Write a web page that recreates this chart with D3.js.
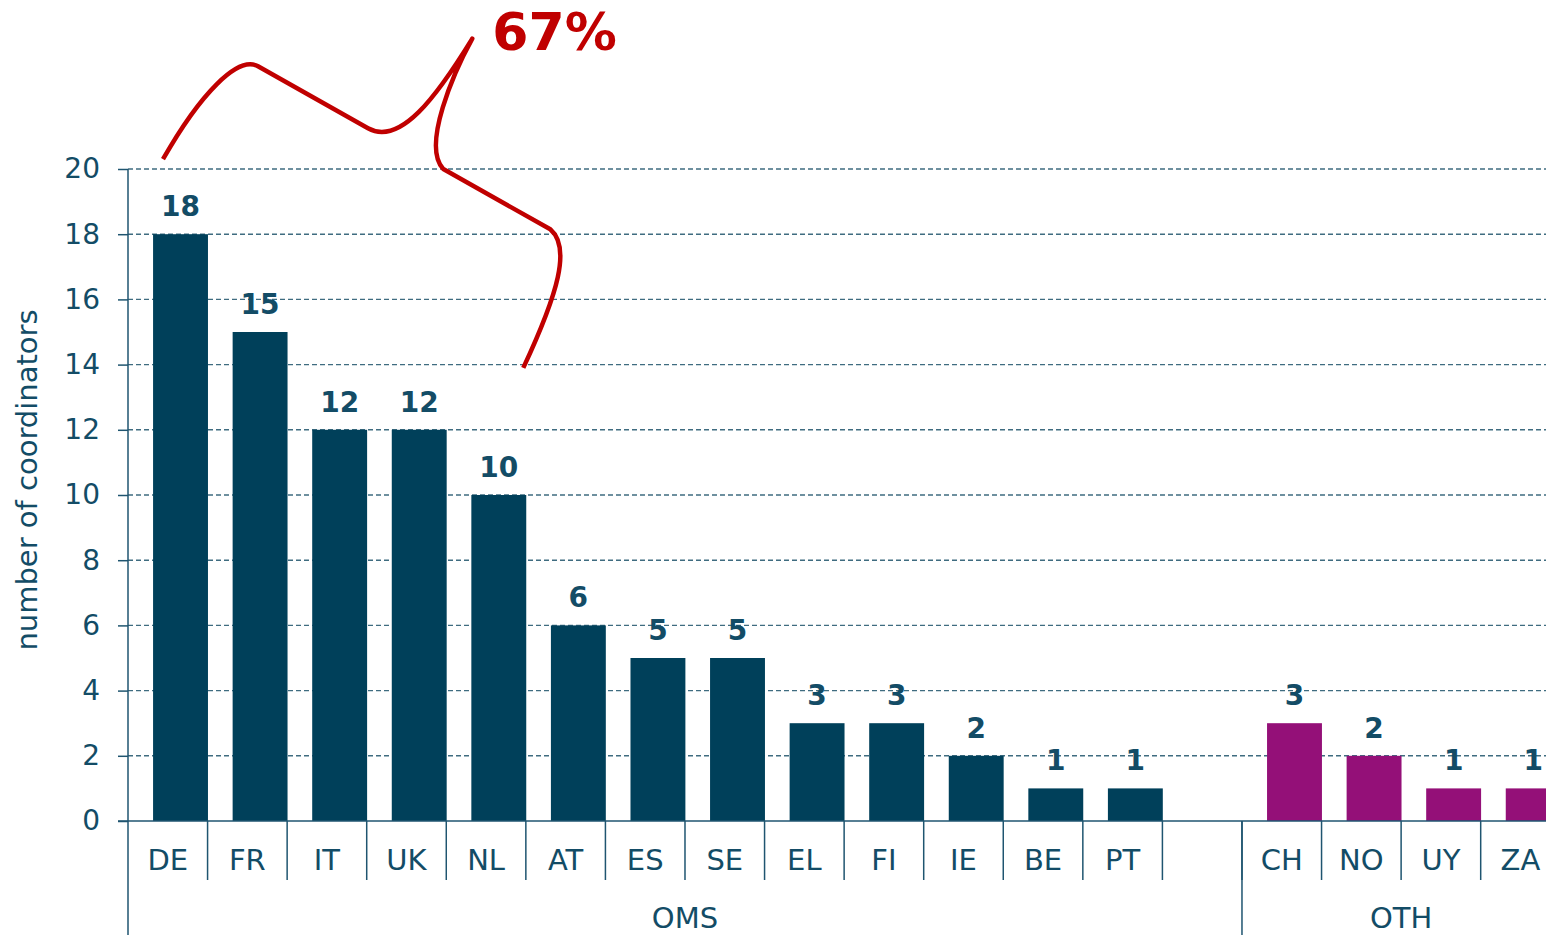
<!DOCTYPE html>
<html>
<head>
<meta charset="utf-8">
<script src="https://cdn.jsdelivr.net/npm/d3@7"></script>
<style>
    html, body { margin: 0; padding: 0; background: #fff; overflow: hidden; }
    #chart { width: 1546px; height: 935px; }
    svg { display: block; font-family: "DejaVu Sans", Verdana, sans-serif; }
</style>
</head>
<body>
<div id="chart"></div>
<script>

// ==========================
// Data
// ==========================

const omsCountries = ["DE", "FR", "IT", "UK", "NL", "AT", "ES", "SE", "EL", "FI", "IE", "BE", "PT"];
const omsValues = [18, 15, 12, 12, 10, 6, 5, 5, 3, 3, 2, 1, 1];

const othCountries = ["CH", "NO", "UY", "ZA"];
const othValues = [3, 2, 1, 1];

const groupNames = ["OMS", "OTH"];
const yTicks = [0, 2, 4, 6, 8, 10, 12, 14, 16, 18, 20];
const annotationText = "67%";
const yTitle = "number of coordinators";

const rows = [
    ...omsCountries.map((c, i) => ({ country: c, value: omsValues[i], group: "OMS" })),
    ...othCountries.map((c, i) => ({ country: c, value: othValues[i], group: "OTH" }))
];

// ==========================
// SVG Setup
// ==========================

const width = 1546;
const height = 935;

const textColor = "#134c66";
const axisColor = "#1f5570";
const omsColor = "#00405a";
const othColor = "#941078";

const svg = d3.select("#chart").append("svg")
    .attr("width", width)
    .attr("height", height);

// ==========================
// Scales
// ==========================

const bandDomain = [...omsCountries, "_gap", ...othCountries];
const bandStep = 79.57;

const xScale = d3.scaleBand()
    .domain(bandDomain)
    .range([128, 128 + bandDomain.length * bandStep])
    .padding(0);

const yScale = d3.scaleLinear()
    .domain([0, 20])
    .range([821, 169]);

const bw = xScale.bandwidth();
const barOffset = bw * 0.315;
const barWidth = bw * 0.69;

// ==========================
// Grid
// ==========================

svg.append("g")
    .selectAll("line")
    .data(yTicks.filter(d => d > 0))
    .enter()
    .append("line")
    .attr("x1", 128)
    .attr("x2", width)
    .attr("y1", d => yScale(d))
    .attr("y2", d => yScale(d))
    .attr("stroke", "#3f6c80")
    .attr("stroke-width", 1.4)
    .attr("stroke-dasharray", "5,3");

// ==========================
// Bars
// ==========================

svg.append("g")
    .selectAll("rect")
    .data(rows)
    .enter()
    .append("rect")
    .attr("x", d => xScale(d.country) + barOffset)
    .attr("y", d => yScale(d.value))
    .attr("width", barWidth)
    .attr("height", d => yScale(0) - yScale(d.value))
    .attr("fill", d => d.group === "OMS" ? omsColor : othColor);

svg.append("g")
    .selectAll("text")
    .data(rows)
    .enter()
    .append("text")
    .attr("x", d => xScale(d.country) + barOffset + barWidth / 2)
    .attr("y", d => yScale(d.value) - 18)
    .attr("text-anchor", "middle")
    .style("font-size", "28px")
    .style("font-weight", "bold")
    .style("fill", textColor)
    .text(d => d.value);

// ==========================
// Axes
// ==========================

const yAxis = d3.axisLeft(yScale)
    .tickValues(yTicks)
    .tickSize(10)
    .tickPadding(18);

const yAxisG = svg.append("g")
    .attr("transform", "translate(128,0)")
    .call(yAxis);

yAxisG.select(".domain").remove();
yAxisG.selectAll(".tick line").attr("stroke", axisColor).attr("stroke-width", 1.5);
yAxisG.selectAll(".tick text")
    .style("font-size", "28px")
    .style("font-family", "DejaVu Sans, Verdana, sans-serif")
    .style("fill", textColor);

// vertical axis line, extends down through category rows
svg.append("line")
    .attr("x1", 128).attr("x2", 128)
    .attr("y1", yScale(20)).attr("y2", height)
    .attr("stroke", axisColor)
    .attr("stroke-width", 1.5);

// baseline
svg.append("line")
    .attr("x1", 118).attr("x2", width)
    .attr("y1", yScale(0)).attr("y2", yScale(0))
    .attr("stroke", axisColor)
    .attr("stroke-width", 1.5);

// category separators
svg.append("g")
    .selectAll("line")
    .data(bandDomain)
    .enter()
    .append("line")
    .attr("x1", d => xScale(d) + bw)
    .attr("x2", d => xScale(d) + bw)
    .attr("y1", yScale(0))
    .attr("y2", yScale(0) + 59)
    .attr("stroke", axisColor)
    .attr("stroke-width", 1.5);

// group separator at OTH start
svg.append("line")
    .attr("x1", xScale(othCountries[0]))
    .attr("x2", xScale(othCountries[0]))
    .attr("y1", yScale(0))
    .attr("y2", height)
    .attr("stroke", axisColor)
    .attr("stroke-width", 1.5);

// category labels
svg.append("g")
    .selectAll("text")
    .data(rows)
    .enter()
    .append("text")
    .attr("x", d => xScale(d.country) + bw / 2)
    .attr("y", yScale(0) + 49)
    .attr("text-anchor", "middle")
    .style("font-size", "29px")
    .style("fill", textColor)
    .text(d => d.country);

// group labels
const groupExtent = [
    [xScale(omsCountries[0]), xScale(othCountries[0])],
    [xScale(othCountries[0]), xScale(othCountries[othCountries.length - 1]) + bw]
];

svg.append("g")
    .selectAll("text")
    .data(groupNames)
    .enter()
    .append("text")
    .attr("x", (d, i) => (groupExtent[i][0] + groupExtent[i][1]) / 2)
    .attr("y", yScale(0) + 107)
    .attr("text-anchor", "middle")
    .style("font-size", "29px")
    .style("fill", textColor)
    .text(d => d);

// y title
svg.append("text")
    .attr("transform", `translate(37,${(yScale(0) + yScale(20)) / 2 - 15}) rotate(-90)`)
    .attr("text-anchor", "middle")
    .style("font-size", "29px")
    .style("fill", textColor)
    .text(yTitle);

// ==========================
// Annotation brace
// ==========================

const deX = xScale("DE");
const nlX = xScale("NL");

const brace = d3.path();
brace.moveTo(deX + 35, yScale(20.3));
brace.bezierCurveTo(deX + 72, yScale(22.3), deX + 110, yScale(23.5), deX + 130, yScale(23.15));
brace.lineTo(deX + 240, yScale(21.25));
brace.bezierCurveTo(deX + 272, yScale(20.7), nlX - 10, yScale(22.2), nlX + 26, yScale(24.0));
brace.bezierCurveTo(nlX + 8, yScale(23.0), nlX - 25, yScale(20.7), nlX - 3, yScale(20.0));
brace.lineTo(nlX + 104, yScale(18.15));
brace.bezierCurveTo(nlX + 125, yScale(17.6), nlX + 112, yScale(16.2), nlX + 77, yScale(13.9));

svg.append("path")
    .attr("d", brace.toString())
    .attr("fill", "none")
    .attr("stroke", "#c00000")
    .attr("stroke-width", 4.5)
    .attr("stroke-linejoin", "round");

svg.append("text")
    .attr("x", nlX + 46)
    .attr("y", 50)
    .style("font-size", "52px")
    .style("font-weight", "bold")
    .style("fill", "#c00000")
    .text(annotationText);

</script>
</body>
</html>
